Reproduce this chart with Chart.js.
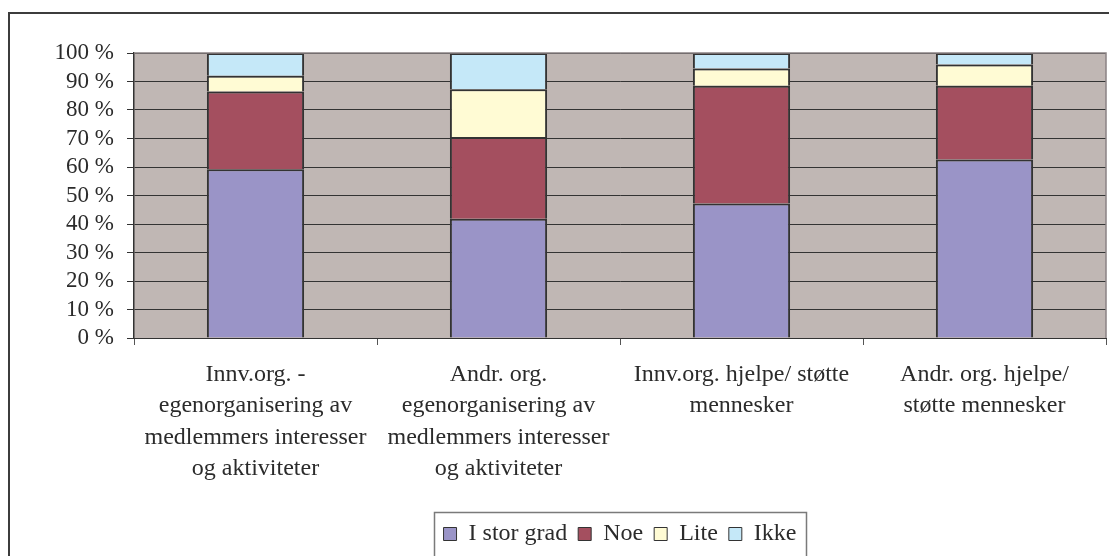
<!DOCTYPE html>
<html>
<head>
<meta charset="utf-8">
<script src="https://cdn.jsdelivr.net/npm/chart.js@4.4.1/dist/chart.umd.min.js"></script>
<style>
  html, body { margin: 0; padding: 0; background: #fff; }
  canvas { display: block; }
</style>
</head>
<body>
<canvas id="c" width="1109" height="556"></canvas>
<script>
const categories = [
  ["Innv.org. -", "egenorganisering av", "medlemmers interesser", "og aktiviteter"],
  ["Andr. org.", "egenorganisering av", "medlemmers interesser", "og aktiviteter"],
  ["Innv.org. hjelpe/ støtte", "mennesker"],
  ["Andr. org. hjelpe/", "støtte mennesker"]
];
const seriesNames = ["I stor grad", "Noe", "Lite", "Ikke"];
const iStorGrad = [59.2, 41.8, 47.2, 62.6];
const noe       = [27.3, 28.7, 41.3, 25.9];
const lite      = [5.5, 16.8, 6.1, 7.5];
const ikke      = [8.0, 12.7, 5.4, 4.0];
const yTicks = [0, 10, 20, 30, 40, 50, 60, 70, 80, 90, 100];

const colors = ["#9A94C7", "#A44F5F", "#FFFBD4", "#C5E8F8"];
const seriesValues = [iStorGrad, noe, lite, ikke];

const FONT = "'Liberation Serif', 'Times New Roman', serif";
const TEXT = "#2b2b2b";

const framePlugin = {
  id: 'frame',
  beforeDraw(chart) {
    const ctx = chart.ctx;
    const a = chart.chartArea;
    ctx.save();
    ctx.fillStyle = '#ffffff';
    ctx.fillRect(0, 0, chart.width, chart.height);
    ctx.strokeStyle = '#3c3c3c';
    ctx.lineWidth = 2;
    ctx.beginPath();
    ctx.moveTo(9, chart.height + 5);
    ctx.lineTo(9, 13);
    ctx.lineTo(chart.width + 5, 13);
    ctx.stroke();
    ctx.fillStyle = '#C0B7B4';
    ctx.fillRect(a.left, a.top, a.right - a.left, a.bottom - a.top);
    ctx.restore();
  },
  afterDraw(chart) {
    const ctx = chart.ctx;
    const a = chart.chartArea;
    ctx.save();
    ctx.strokeStyle = '#8a8384';
    ctx.lineWidth = 1.5;
    ctx.beginPath();
    ctx.moveTo(a.left, a.top);
    ctx.lineTo(a.right, a.top);
    ctx.lineTo(a.right, a.bottom);
    ctx.stroke();
    const lg = chart.legend;
    if (lg && lg.legendHitBoxes && lg.legendHitBoxes.length) {
      const boxes = lg.legendHitBoxes;
      const l = Math.min(...boxes.map(b => b.left)) - 10;
      const r = Math.max(...boxes.map(b => b.left + b.width)) + 10;
      const t = Math.min(...boxes.map(b => b.top)) - 10;
      ctx.strokeStyle = '#7a7a7a';
      ctx.lineWidth = 1.5;
      ctx.beginPath();
      ctx.moveTo(Math.round(l) + 0.5, chart.height + 5);
      ctx.lineTo(Math.round(l) + 0.5, Math.round(t) + 0.5);
      ctx.lineTo(Math.round(r) + 0.5, Math.round(t) + 0.5);
      ctx.lineTo(Math.round(r) + 0.5, chart.height + 5);
      ctx.stroke();
    }
    ctx.restore();
  }
};

new Chart(document.getElementById('c'), {
  type: 'bar',
  data: {
    labels: categories,
    datasets: seriesNames.map((name, i) => ({
      label: name,
      data: seriesValues[i],
      backgroundColor: colors[i],
      borderColor: '#333333',
      borderWidth: 2,
      categoryPercentage: 1.0,
      barPercentage: 0.4
    }))
  },
  options: {
    responsive: false,
    animation: false,
    devicePixelRatio: 1,
    layout: { padding: { top: 53, right: 3, left: 0, bottom: 0 } },
    plugins: {
      tooltip: { enabled: false },
      legend: {
        position: 'bottom',
        fullSize: false,
        labels: {
          font: { family: FONT, size: 24 },
          color: TEXT,
          boxWidth: 13,
          boxHeight: 13,
          padding: 11,
          generateLabels(chart) {
            return chart.data.datasets.map((ds, i) => ({
              text: ds.label,
              fillStyle: ds.backgroundColor,
              strokeStyle: '#333333',
              lineWidth: 1,
              fontColor: TEXT,
              datasetIndex: i,
              hidden: false
            }));
          }
        }
      }
    },
    scales: {
      x: {
        stacked: true,
        afterFit(scale) { scale.height = 173; },
        grid: {
          display: true,
          drawOnChartArea: false,
          drawTicks: true,
          tickLength: 7,
          color: '#555555',
          offset: true
        },
        border: { display: true, color: '#333333', width: 1 },
        ticks: {
          font: { family: FONT, size: 24, lineHeight: 1.31 },
          color: TEXT,
          padding: 14,
          maxRotation: 0,
          autoSkip: false
        }
      },
      y: {
        stacked: true,
        min: 0,
        max: 100,
        afterFit(scale) { scale.width = 134; },
        afterBuildTicks(scale) { scale.ticks = yTicks.map(v => ({ value: v })); },
        grid: {
          color: '#333333',
          lineWidth: 1,
          tickLength: 7,
          drawTicks: true
        },
        border: { display: true, color: '#333333', width: 1.5 },
        ticks: {
          font: { family: FONT, size: 23 },
          color: TEXT,
          padding: 13,
          autoSkip: false,
          callback: v => v + ' %'
        }
      }
    }
  },
  plugins: [framePlugin]
});
</script>
</body>
</html>
